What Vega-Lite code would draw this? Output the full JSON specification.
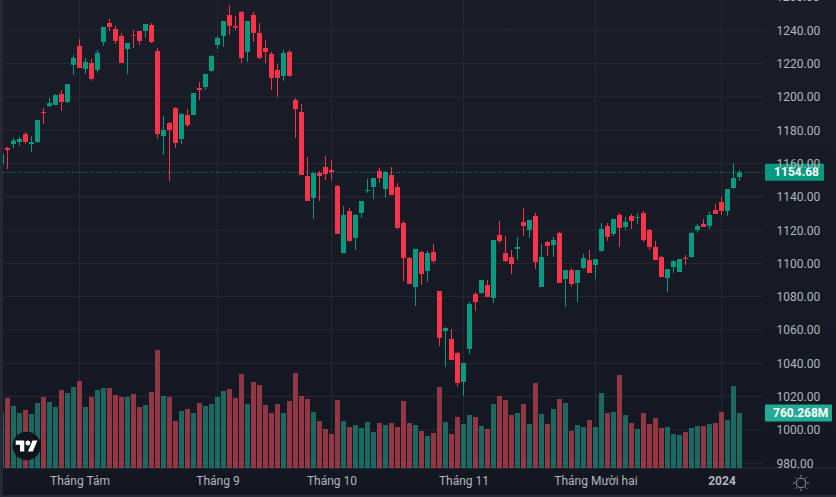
{
  "$schema": "https://vega.github.io/schema/vega-lite/v6.json",
  "width": 763,
  "height": 468,
  "autosize": {"type": "none"},
  "padding": {"left": 0, "top": 0, "right": 73, "bottom": 29},
  "background": "#151923",
  "config": {"view": {"stroke": null}},
  "datasets": {
    "one": [{"price": 1154.68, "volume": 760.268, "priceLabel": "1154.68", "volumeLabel": "760.268M"}],
    "clippedTick": [{"p": 1260, "label": "1260.00"}],
    "priceTicks": [{"p":980},{"p":1000},{"p":1020},{"p":1040},{"p":1060},{"p":1080},{"p":1100},{"p":1120},{"p":1140},{"p":1160},{"p":1180},{"p":1200},{"p":1220},{"p":1240}],
    "monthTicks": [{"t":13},{"t":36},{"t":55},{"t":77},{"t":99},{"t":120}],
    "candles": [
      {"i":0,"o":1159.7,"h":1166.1,"l":1159.7,"c":1165.7,"v":759},
      {"i":1,"o":1169.3,"h":1169.9,"l":1156.7,"c":1168.1,"v":966},
      {"i":2,"o":1171.7,"h":1175.3,"l":1169.3,"c":1173.7,"v":856},
      {"i":3,"o":1172.9,"h":1175.9,"l":1170.5,"c":1174.7,"v":759},
      {"i":4,"o":1177.7,"h":1178.9,"l":1171.7,"c":1172.9,"v":800},
      {"i":5,"o":1171.7,"h":1176.5,"l":1166.9,"c":1172.9,"v":745},
      {"i":6,"o":1172.9,"h":1186.1,"l":1172.3,"c":1186.1,"v":897},
      {"i":7,"o":1190.9,"h":1193.3,"l":1183.7,"c":1190.3,"v":980},
      {"i":8,"o":1194.5,"h":1199.3,"l":1193.9,"c":1196.3,"v":911},
      {"i":9,"o":1195.1,"h":1201.7,"l":1195.1,"c":1201.1,"v":842},
      {"i":10,"o":1201.7,"h":1204.1,"l":1191.5,"c":1196.9,"v":1076},
      {"i":11,"o":1196.9,"h":1207.7,"l":1196.3,"c":1207.7,"v":1035},
      {"i":12,"o":1219.2,"h":1225.2,"l":1213.2,"c":1223.4,"v":1118},
      {"i":13,"o":1230.6,"h":1234.8,"l":1217.4,"c":1217.4,"v":1201},
      {"i":14,"o":1216.8,"h":1223.4,"l":1213.8,"c":1221.0,"v":842},
      {"i":15,"o":1220.4,"h":1222.8,"l":1209.6,"c":1210.8,"v":980},
      {"i":16,"o":1216.2,"h":1228.2,"l":1214.4,"c":1226.4,"v":1076},
      {"i":17,"o":1233.0,"h":1242.0,"l":1230.6,"c":1242.0,"v":1104},
      {"i":18,"o":1244.4,"h":1246.8,"l":1239.6,"c":1242.0,"v":1104},
      {"i":19,"o":1240.8,"h":1242.6,"l":1231.8,"c":1233.6,"v":1007},
      {"i":20,"o":1236.6,"h":1238.4,"l":1220.4,"c":1220.4,"v":980},
      {"i":21,"o":1228.8,"h":1232.4,"l":1213.8,"c":1232.4,"v":980},
      {"i":22,"o":1237.2,"h":1240.2,"l":1229.4,"c":1236.8,"v":1021},
      {"i":23,"o":1239.6,"h":1239.6,"l":1231.2,"c":1233.6,"v":842},
      {"i":24,"o":1239.6,"h":1243.8,"l":1235.4,"c":1243.8,"v":869},
      {"i":25,"o":1243.2,"h":1244.4,"l":1232.4,"c":1233.0,"v":1049},
      {"i":26,"o":1227.6,"h":1229.4,"l":1174.7,"c":1177.7,"v":1628},
      {"i":27,"o":1176.5,"h":1188.5,"l":1165.1,"c":1180.1,"v":994},
      {"i":28,"o":1184.3,"h":1184.9,"l":1149.5,"c":1180.1,"v":980},
      {"i":29,"o":1193.3,"h":1193.9,"l":1169.3,"c":1172.3,"v":649},
      {"i":30,"o":1174.7,"h":1190.3,"l":1171.7,"c":1189.7,"v":787},
      {"i":31,"o":1189.1,"h":1192.7,"l":1181.9,"c":1183.1,"v":814},
      {"i":32,"o":1189.1,"h":1202.3,"l":1189.1,"c":1202.3,"v":759},
      {"i":33,"o":1205.3,"h":1208.9,"l":1198.1,"c":1204.1,"v":897},
      {"i":34,"o":1205.9,"h":1213.8,"l":1204.1,"c":1213.8,"v":856},
      {"i":35,"o":1215.6,"h":1225.2,"l":1215.0,"c":1224.6,"v":883},
      {"i":36,"o":1231.2,"h":1236.6,"l":1228.8,"c":1235.4,"v":980},
      {"i":37,"o":1236.6,"h":1245.6,"l":1230.0,"c":1245.6,"v":1063},
      {"i":38,"o":1249.2,"h":1255.2,"l":1237.2,"c":1242.6,"v":1090},
      {"i":39,"o":1242.6,"h":1248.6,"l":1240.2,"c":1241.6,"v":966},
      {"i":40,"o":1251.0,"h":1251.6,"l":1220.4,"c":1223.4,"v":1297},
      {"i":41,"o":1227.0,"h":1245.6,"l":1221.0,"c":1245.6,"v":883},
      {"i":42,"o":1249.2,"h":1251.0,"l":1233.0,"c":1238.4,"v":1187},
      {"i":43,"o":1238.4,"h":1244.4,"l":1222.8,"c":1223.4,"v":1145},
      {"i":44,"o":1229.4,"h":1234.2,"l":1220.4,"c":1227.0,"v":869},
      {"i":45,"o":1225.8,"h":1227.0,"l":1204.1,"c":1211.4,"v":759},
      {"i":46,"o":1216.2,"h":1219.8,"l":1199.9,"c":1211.4,"v":883},
      {"i":47,"o":1212.6,"h":1228.2,"l":1209.6,"c":1226.4,"v":759},
      {"i":48,"o":1227.0,"h":1228.2,"l":1212.0,"c":1212.6,"v":925},
      {"i":49,"o":1198.1,"h":1199.3,"l":1175.3,"c":1192.7,"v":1311},
      {"i":50,"o":1190.9,"h":1195.7,"l":1153.1,"c":1153.1,"v":994},
      {"i":51,"o":1152.5,"h":1163.9,"l":1137.5,"c":1137.5,"v":952},
      {"i":52,"o":1139.3,"h":1154.3,"l":1126.7,"c":1154.3,"v":773},
      {"i":53,"o":1154.3,"h":1155.5,"l":1137.5,"c":1152.5,"v":649},
      {"i":54,"o":1157.9,"h":1164.5,"l":1150.1,"c":1153.7,"v":538},
      {"i":55,"o":1156.1,"h":1162.1,"l":1150.1,"c":1154.9,"v":469},
      {"i":56,"o":1146.5,"h":1147.1,"l":1117.7,"c":1117.7,"v":938},
      {"i":57,"o":1106.2,"h":1134.5,"l":1106.2,"c":1129.1,"v":649},
      {"i":58,"o":1131.5,"h":1133.3,"l":1112.9,"c":1113.5,"v":566},
      {"i":59,"o":1115.3,"h":1129.7,"l":1108.1,"c":1129.1,"v":593},
      {"i":60,"o":1130.3,"h":1137.5,"l":1127.3,"c":1137.5,"v":552},
      {"i":61,"o":1143.5,"h":1150.7,"l":1142.3,"c":1144.1,"v":635},
      {"i":62,"o":1145.9,"h":1151.3,"l":1138.7,"c":1151.3,"v":497},
      {"i":63,"o":1155.5,"h":1157.3,"l":1148.3,"c":1151.3,"v":621},
      {"i":64,"o":1144.7,"h":1155.5,"l":1139.3,"c":1154.9,"v":593},
      {"i":65,"o":1153.1,"h":1157.9,"l":1141.1,"c":1141.1,"v":621},
      {"i":66,"o":1145.9,"h":1148.3,"l":1120.7,"c":1121.3,"v":566},
      {"i":67,"o":1124.3,"h":1125.5,"l":1089.4,"c":1103.2,"v":925},
      {"i":68,"o":1103.2,"h":1103.8,"l":1087.6,"c":1087.6,"v":621},
      {"i":69,"o":1085.8,"h":1108.7,"l":1074.4,"c":1108.7,"v":593},
      {"i":70,"o":1106.9,"h":1107.5,"l":1087.0,"c":1093.6,"v":511},
      {"i":71,"o":1095.4,"h":1107.5,"l":1088.8,"c":1106.2,"v":442},
      {"i":72,"o":1106.9,"h":1111.7,"l":1100.2,"c":1101.4,"v":483},
      {"i":73,"o":1083.4,"h":1083.4,"l":1050.4,"c":1055.2,"v":1118},
      {"i":74,"o":1059.4,"h":1061.8,"l":1037.8,"c":1061.2,"v":635},
      {"i":75,"o":1054.6,"h":1060.6,"l":1042.0,"c":1042.0,"v":469},
      {"i":76,"o":1046.2,"h":1046.8,"l":1025.8,"c":1028.2,"v":704},
      {"i":77,"o":1028.8,"h":1040.2,"l":1020.4,"c":1040.2,"v":607},
      {"i":78,"o":1048.6,"h":1076.8,"l":1045.6,"c":1075.6,"v":731},
      {"i":79,"o":1081.6,"h":1082.8,"l":1071.4,"c":1076.8,"v":704},
      {"i":80,"o":1082.2,"h":1090.0,"l":1081.6,"c":1090.0,"v":580},
      {"i":81,"o":1087.0,"h":1090.0,"l":1079.8,"c":1079.8,"v":538},
      {"i":82,"o":1079.2,"h":1114.1,"l":1076.2,"c":1114.1,"v":883},
      {"i":83,"o":1117.1,"h":1125.5,"l":1112.3,"c":1113.5,"v":994},
      {"i":84,"o":1106.2,"h":1116.5,"l":1100.8,"c":1101.4,"v":938},
      {"i":85,"o":1103.8,"h":1108.1,"l":1093.6,"c":1099.6,"v":731},
      {"i":86,"o":1108.7,"h":1115.9,"l":1102.0,"c":1109.9,"v":759},
      {"i":87,"o":1124.9,"h":1133.3,"l":1116.5,"c":1122.5,"v":883},
      {"i":88,"o":1120.1,"h":1126.1,"l":1115.3,"c":1126.1,"v":607},
      {"i":89,"o":1128.5,"h":1130.3,"l":1096.6,"c":1100.8,"v":1173},
      {"i":90,"o":1085.8,"h":1111.7,"l":1085.8,"c":1103.8,"v":745},
      {"i":91,"o":1112.9,"h":1113.5,"l":1104.4,"c":1110.5,"v":607},
      {"i":92,"o":1111.1,"h":1115.9,"l":1103.8,"c":1114.1,"v":814},
      {"i":93,"o":1118.3,"h":1118.9,"l":1088.2,"c":1088.2,"v":952},
      {"i":94,"o":1090.6,"h":1096.0,"l":1073.8,"c":1096.0,"v":897},
      {"i":95,"o":1096.0,"h":1097.2,"l":1085.8,"c":1087.6,"v":511},
      {"i":96,"o":1088.2,"h":1096.0,"l":1076.8,"c":1096.0,"v":593},
      {"i":97,"o":1097.2,"h":1105.6,"l":1096.6,"c":1103.2,"v":566},
      {"i":98,"o":1102.0,"h":1108.1,"l":1094.2,"c":1094.2,"v":662},
      {"i":99,"o":1099.0,"h":1102.6,"l":1090.6,"c":1102.6,"v":566},
      {"i":100,"o":1107.5,"h":1124.3,"l":1106.9,"c":1120.7,"v":1035},
      {"i":101,"o":1122.5,"h":1124.3,"l":1113.5,"c":1115.9,"v":759},
      {"i":102,"o":1117.7,"h":1126.7,"l":1116.5,"c":1126.7,"v":773},
      {"i":103,"o":1129.1,"h":1130.3,"l":1109.9,"c":1121.3,"v":1283},
      {"i":104,"o":1121.9,"h":1127.9,"l":1120.1,"c":1124.9,"v":731},
      {"i":105,"o":1128.5,"h":1129.7,"l":1120.7,"c":1125.5,"v":621},
      {"i":106,"o":1127.4,"h":1130.3,"l":1123.7,"c":1127.9,"v":538},
      {"i":107,"o":1130.3,"h":1131.5,"l":1112.9,"c":1114.1,"v":759},
      {"i":108,"o":1120.1,"h":1120.7,"l":1108.1,"c":1109.9,"v":607},
      {"i":109,"o":1109.9,"h":1113.5,"l":1102.0,"c":1102.0,"v":690},
      {"i":110,"o":1103.8,"h":1104.4,"l":1091.8,"c":1091.8,"v":552},
      {"i":111,"o":1091.2,"h":1096.6,"l":1082.8,"c":1096.6,"v":566},
      {"i":112,"o":1097.8,"h":1102.0,"l":1094.2,"c":1101.4,"v":469},
      {"i":113,"o":1094.8,"h":1102.6,"l":1094.8,"c":1102.6,"v":455},
      {"i":114,"o":1103.4,"h":1105.0,"l":1099.0,"c":1102.8,"v":497},
      {"i":115,"o":1103.8,"h":1118.9,"l":1103.8,"c":1118.3,"v":552},
      {"i":116,"o":1120.1,"h":1123.7,"l":1118.3,"c":1122.5,"v":580},
      {"i":117,"o":1123.7,"h":1126.7,"l":1121.9,"c":1121.9,"v":580},
      {"i":118,"o":1122.5,"h":1130.9,"l":1120.7,"c":1129.1,"v":607},
      {"i":119,"o":1132.1,"h":1135.7,"l":1129.7,"c":1129.7,"v":621},
      {"i":120,"o":1136.9,"h":1139.9,"l":1129.1,"c":1131.5,"v":773},
      {"i":121,"o":1131.5,"h":1144.7,"l":1128.5,"c":1144.7,"v":662},
      {"i":122,"o":1145.3,"h":1160.3,"l":1144.7,"c":1151.3,"v":1132},
      {"i":123,"o":1151.9,"h":1156.1,"l":1149.5,"c":1154.68,"v":760.268}
    ]
  },
  "layer": [
    {
      "data": {"name": "one"},
      "mark": {"type": "rect", "fill": {"gradient": "linear", "x1": 0, "y1": 0, "x2": 0, "y2": 1, "stops": [{"offset": 0, "color": "#191d28"}, {"offset": 1, "color": "#131722"}]}},
      "encoding": {
        "x": {"datum": -0.25, "type": "quantitative", "scale": {"domain": [-0.25, 126.9167], "nice": false, "zero": false, "padding": 0}, "axis": null},
        "x2": {"datum": 140},
        "y": {"datum": 1258.2, "type": "quantitative", "scale": {"domain": [977.1, 1258.2], "nice": false, "zero": false}, "axis": null},
        "y2": {"datum": 959}
      }
    },
    {
      "data": {"name": "priceTicks"},
      "mark": {"type": "rule", "color": "#262a35", "strokeWidth": 1},
      "encoding": {"y": {"field": "p", "type": "quantitative", "scale": {"domain": [977.1, 1258.2], "nice": false, "zero": false}, "axis": null}}
    },
    {
      "data": {"name": "monthTicks"},
      "mark": {"type": "rule", "color": "#262a35", "strokeWidth": 1},
      "encoding": {
        "x": {
          "field": "t",
          "type": "quantitative",
          "axis": {
            "title": null,
            "orient": "bottom",
            "zindex": 1,
            "grid": false,
            "domain": false,
            "ticks": false,
            "values": [13, 36, 55, 77, 99, 120],
            "labelExpr": "datum.value == 13 ? 'Tháng Tám' : datum.value == 36 ? 'Tháng 9' : datum.value == 55 ? 'Tháng 10' : datum.value == 77 ? 'Tháng 11' : datum.value == 99 ? 'Tháng Mười hai' : '2024'",
            "labelColor": "#b2b5be",
            "labelFont": "Roboto",
            "labelFontSize": 12,
            "labelFontWeight": {"condition": {"test": "datum.value == 120", "value": "bold"}, "value": "normal"},
            "labelPadding": 7,
            "labelOverlap": false
          }
        }
      }
    },
    {
      "data": {"name": "one"},
      "mark": {"type": "rule", "color": "#2a2e39", "strokeWidth": 1},
      "encoding": {
        "x": {"datum": -0.25, "type": "quantitative", "axis": null},
        "x2": {"datum": 140},
        "y": {"datum": 977.1, "type": "quantitative", "scale": {"domain": [977.1, 1258.2], "nice": false, "zero": false}, "axis": null}
      }
    },
    {
      "data": {"name": "candles"},
      "mark": {"type": "bar", "width": 5, "opacity": 0.55},
      "encoding": {
        "x": {"field": "i", "type": "quantitative", "axis": null},
        "y": {"field": "v", "type": "quantitative", "scale": {"domain": [0, 6458.4], "nice": false}, "axis": null, "stack": null},
        "color": {"condition": {"test": "datum.c >= datum.o", "value": "#22ab94"}, "value": "#f7525f"}
      }
    },
    {
      "data": {"name": "one"},
      "mark": {"type": "rule", "color": "#089981", "strokeWidth": 1, "strokeDash": [1, 2]},
      "encoding": {"y": {"field": "price", "type": "quantitative", "scale": {"domain": [977.1, 1258.2], "nice": false, "zero": false}, "axis": null}}
    },
    {
      "data": {"name": "candles"},
      "mark": {"type": "rule", "strokeWidth": 1},
      "encoding": {
        "x": {"field": "i", "type": "quantitative", "axis": null},
        "y": {
          "field": "l",
          "type": "quantitative",
          "scale": {"domain": [977.1, 1258.2], "nice": false, "zero": false},
          "axis": {
            "title": null,
            "orient": "right",
            "zindex": 1,
            "grid": false,
            "domain": false,
            "ticks": false,
            "values": [980, 1000, 1020, 1040, 1060, 1080, 1100, 1120, 1140, 1160, 1180, 1200, 1220, 1240],
            "format": ".2f",
            "labelColor": "#b2b5be",
            "labelFont": "Roboto",
            "labelFontSize": 12,
            "labelPadding": 13,
            "labelOverlap": false,
            "labelBound": false,
            "labelFlush": false
          }
        },
        "y2": {"field": "h"},
        "stroke": {"condition": {"test": "datum.c >= datum.o", "value": "#089981"}, "value": "#f7344a"}
      }
    },
    {
      "data": {"name": "candles"},
      "mark": {"type": "bar", "width": 5},
      "encoding": {
        "x": {"field": "i", "type": "quantitative", "axis": null},
        "y": {"field": "o", "type": "quantitative", "scale": {"domain": [977.1, 1258.2], "nice": false, "zero": false}, "axis": null},
        "y2": {"field": "c"},
        "color": {"condition": {"test": "datum.c >= datum.o", "value": "#089981"}, "value": "#f7344a"}
      }
    },
    {
      "data": {"name": "clippedTick"},
      "mark": {"type": "text", "color": "#b2b5be", "font": "Roboto", "fontSize": 12, "align": "left", "baseline": "middle"},
      "encoding": {
        "x": {"datum": 129.08, "type": "quantitative", "axis": null},
        "y": {"field": "p", "type": "quantitative", "scale": {"domain": [977.1, 1258.2], "nice": false, "zero": false}, "axis": null},
        "text": {"field": "label"}
      }
    },
    {
      "data": {"name": "one"},
      "mark": {"type": "rect", "width": 59, "height": 17, "color": "#089981", "cornerRadius": 1},
      "encoding": {
        "x": {"datum": 132.17, "type": "quantitative", "axis": null},
        "y": {"field": "price", "type": "quantitative", "scale": {"domain": [977.1, 1258.2], "nice": false, "zero": false}, "axis": null}
      }
    },
    {
      "data": {"name": "one"},
      "mark": {"type": "text", "color": "#ffffff", "font": "Roboto", "fontSize": 12, "fontWeight": "bold", "align": "center", "baseline": "middle"},
      "encoding": {
        "x": {"datum": 132.5, "type": "quantitative", "axis": null},
        "y": {"field": "price", "type": "quantitative", "scale": {"domain": [977.1, 1258.2], "nice": false, "zero": false}, "axis": null},
        "text": {"field": "priceLabel"}
      }
    },
    {
      "data": {"name": "one"},
      "mark": {"type": "rect", "width": 67, "height": 17, "color": "#22ab94", "cornerRadius": 1},
      "encoding": {
        "x": {"datum": 132.83, "type": "quantitative", "axis": null},
        "y": {"field": "volume", "type": "quantitative", "scale": {"domain": [0, 6458.4], "nice": false}, "axis": null}
      }
    },
    {
      "data": {"name": "one"},
      "mark": {"type": "text", "color": "#ffffff", "font": "Roboto", "fontSize": 12, "fontWeight": "bold", "align": "center", "baseline": "middle"},
      "encoding": {
        "x": {"datum": 133.2, "type": "quantitative", "axis": null},
        "y": {"field": "volume", "type": "quantitative", "scale": {"domain": [0, 6458.4], "nice": false}, "axis": null},
        "text": {"field": "volumeLabel"}
      }
    },
    {
      "data": {"name": "one"},
      "mark": {"type": "point", "shape": "circle", "filled": true, "size": 804, "color": "#10131c", "opacity": 1},
      "encoding": {
        "x": {"datum": 4.2, "type": "quantitative", "axis": null},
        "y": {"datum": 990.3, "type": "quantitative", "scale": {"domain": [977.1, 1258.2], "nice": false, "zero": false}, "axis": null}
      }
    },
    {
      "data": {"name": "one"},
      "mark": {"type": "point", "shape": "M-0.222 0.5H-0.611V-0.111H-1V-0.5H-0.222ZM0.556 0.5H0.111L0.528 -0.5H0.972ZM-0.111 -0.278A0.222 0.222 0 1 1 0.333 -0.278A0.222 0.222 0 1 1 -0.111 -0.278Z", "filled": true, "size": 484, "color": "#ffffff", "opacity": 1},
      "encoding": {
        "x": {"datum": 4.2, "type": "quantitative", "axis": null},
        "y": {"datum": 990.3, "type": "quantitative", "scale": {"domain": [977.1, 1258.2], "nice": false, "zero": false}, "axis": null}
      }
    },
    {
      "data": {"name": "one"},
      "mark": {"type": "point", "shape": "M-0.6 0A0.6 0.6 0 1 1 0.6 0A0.6 0.6 0 1 1 -0.6 0ZM0 -0.75V-1M0 0.75V1M-0.75 0H-1M0.75 0H1M-0.53 -0.53L-0.71 -0.71M0.53 -0.53L0.71 -0.71M-0.53 0.53L-0.71 0.71M0.53 0.53L0.71 0.71", "filled": false, "size": 256, "color": "#9598a1", "strokeWidth": 1, "opacity": 1},
      "encoding": {
        "x": {"datum": 133.25, "type": "quantitative", "axis": null},
        "y": {"datum": 968.1, "type": "quantitative", "scale": {"domain": [977.1, 1258.2], "nice": false, "zero": false}, "axis": null}
      }
    },
    {
      "data": {"name": "one"},
      "mark": {"type": "rect", "color": "#262934"},
      "encoding": {
        "x": {"datum": -0.25, "type": "quantitative", "axis": null},
        "x2": {"datum": 0.25},
        "y": {"datum": 1258.2, "type": "quantitative", "scale": {"domain": [977.1, 1258.2], "nice": false, "zero": false}, "axis": null},
        "y2": {"datum": 959}
      }
    },
    {
      "data": {"name": "one"},
      "mark": {"type": "rect", "color": "#262934"},
      "encoding": {
        "x": {"datum": -0.25, "type": "quantitative", "axis": null},
        "x2": {"datum": 140},
        "y": {"datum": 960.9, "type": "quantitative", "scale": {"domain": [977.1, 1258.2], "nice": false, "zero": false}, "axis": null},
        "y2": {"datum": 959}
      }
    }
  ],
  "resolve": {"scale": {"y": "independent"}, "axis": {"x": "independent", "y": "independent"}}
}
